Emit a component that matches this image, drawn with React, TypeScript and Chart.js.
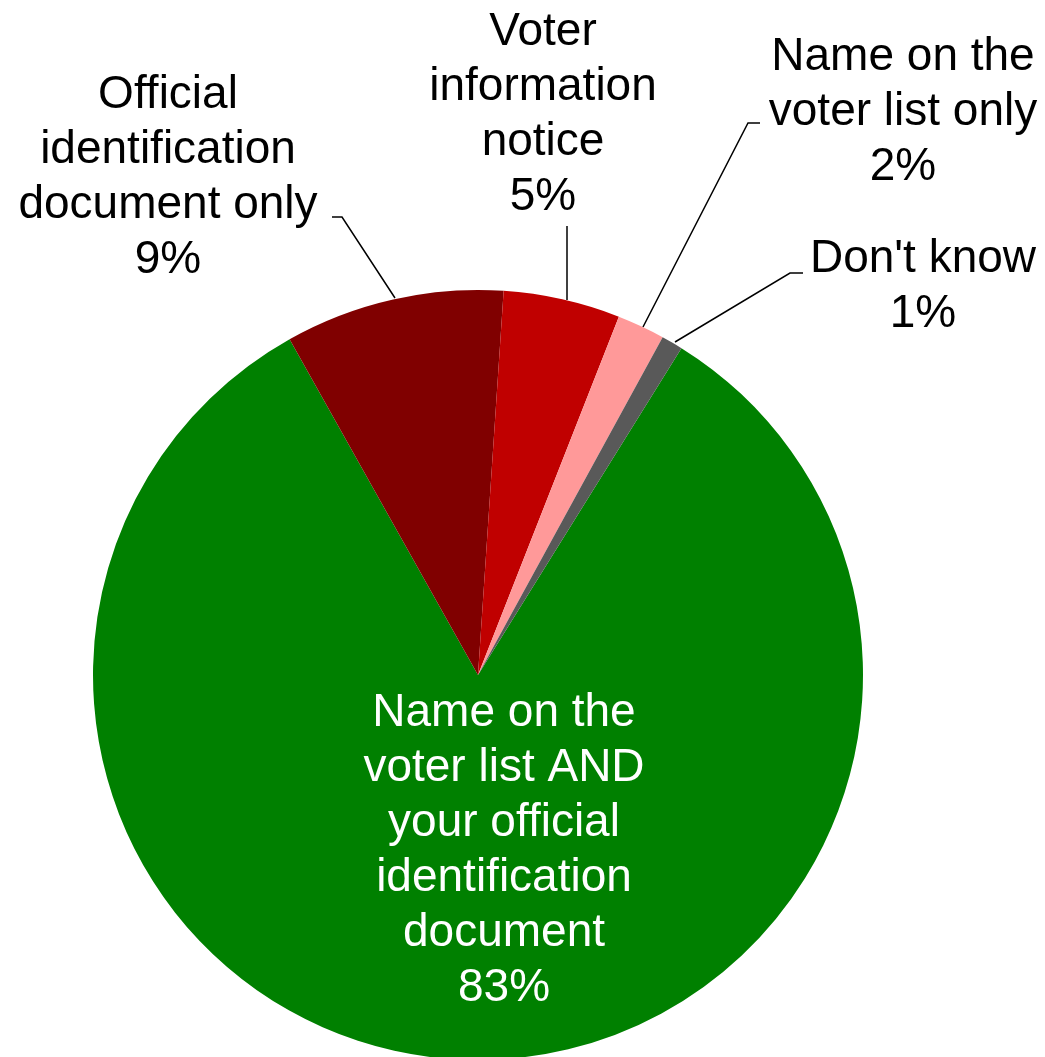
import React, { useEffect, useRef } from "react";
import { Chart, registerables } from "chart.js";

Chart.register(...registerables);

const categories: string[] = [
  "Name on the voter list AND your official identification document",
  "Official identification document only",
  "Voter information notice",
  "Name on the voter list only",
  "Don't know",
];
const values: number[] = [83, 9.2, 4.9, 2.0, 0.9];
const percentLabels: string[] = ["83%", "9%", "5%", "2%", "1%"];
const labelLines: string[][] = [
  ["Name on the", "voter list AND", "your official", "identification", "document"],
  ["Official", "identification", "document only"],
  ["Voter", "information", "notice"],
  ["Name on the", "voter list only"],
  ["Don't know"],
];
const colors: string[] = ["#008000", "#800000", "#C00000", "#FF9999", "#595959"];

// label layout (centre x, first baseline y, text colour) and leader polylines
const labelLayout = [
  { x: 504, y: 726, color: "#FFFFFF", leader: null as number[][] | null },
  { x: 168, y: 108, color: "#000000", leader: [[342, 217], [332, 217], [342, 217], [395, 298]] },
  { x: 543, y: 45, color: "#000000", leader: [[567, 226], [567, 300]] },
  { x: 903, y: 70, color: "#000000", leader: [[760, 123], [748, 123], [643, 327]] },
  { x: 923, y: 272, color: "#000000", leader: [[803, 273], [790, 273], [675, 342]] },
];

const FONT = '46px "Liberation Sans", Arial, sans-serif';
const LINE_H = 55;

const labelPlugin = {
  id: "sliceLabels",
  afterDatasetsDraw(chart: any) {
    const ctx = chart.ctx as CanvasRenderingContext2D;
    ctx.save();
    labelLayout.forEach((lay, i) => {
      if (lay.leader) {
        ctx.strokeStyle = "#000000";
        ctx.lineWidth = 1.5;
        ctx.beginPath();
        lay.leader.forEach((p, k) => (k === 0 ? ctx.moveTo(p[0], p[1]) : ctx.lineTo(p[0], p[1])));
        ctx.stroke();
      }
      const lines = [...labelLines[i], percentLabels[i]];
      ctx.font = FONT;
      ctx.fillStyle = lay.color;
      ctx.textAlign = "center";
      ctx.textBaseline = "alphabetic";
      lines.forEach((t, k) => ctx.fillText(t, lay.x, lay.y + k * LINE_H));
    });
    ctx.restore();
  },
};

export default function App() {
  const ref = useRef<HTMLCanvasElement | null>(null);
  useEffect(() => {
    document.body.style.margin = "0";
    const chart = new Chart(ref.current as HTMLCanvasElement, {
      type: "pie",
      data: {
        labels: categories,
        datasets: [
          {
            data: values,
            backgroundColor: colors,
            borderWidth: 0,
            hoverOffset: 0,
            offset: 0,
          },
        ],
      },
      options: {
        responsive: false,
        animation: false,
        devicePixelRatio: 1,
        rotation: 31.9,
        layout: { padding: { top: 290, left: 93, right: 182, bottom: 2 } },
        plugins: {
          legend: { display: false },
          tooltip: { enabled: false },
          title: { display: false },
        },
        events: [],
      },
      plugins: [labelPlugin],
    });
    return () => chart.destroy();
  }, []);
  return (
    <div
      style={{
        position: "fixed",
        left: 0,
        top: 0,
        width: 1045,
        height: 1062,
        overflow: "hidden",
        background: "#FFFFFF",
      }}
    >
      <canvas ref={ref} width={1045} height={1062} style={{ width: 1045, height: 1062, display: "block" }} />
    </div>
  );
}
